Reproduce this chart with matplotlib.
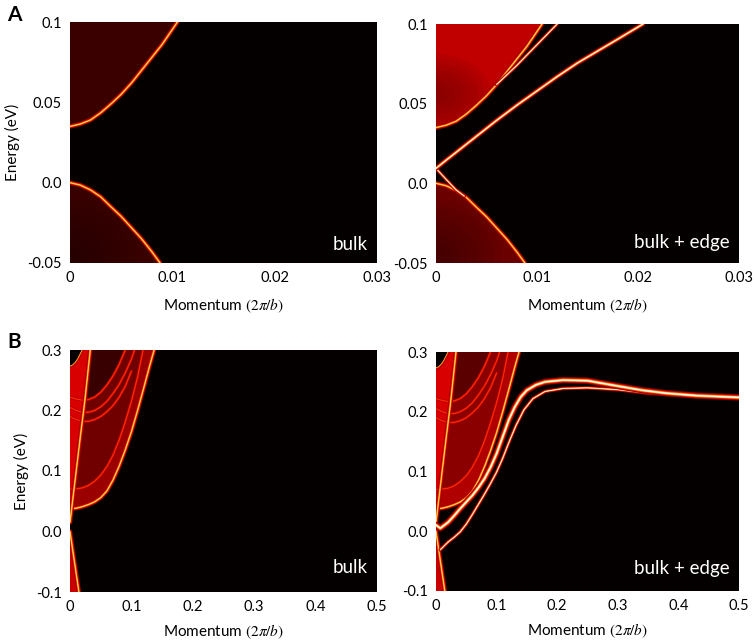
import matplotlib

matplotlib.use("Agg")
import matplotlib.pyplot as plt
from matplotlib.patches import Ellipse, Polygon
import numpy as np

plt.rcParams["font.family"] = ["Lato", "DejaVu Sans"]
plt.rcParams["mathtext.fontset"] = "stix"

# ---- panel A : momentum 0..0.03, energy -0.05..0.1 ----
a_cond_k = [0, 0.001, 0.002, 0.003, 0.004, 0.005, 0.006, 0.007, 0.008, 0.009, 0.0105]
a_cond_E = [0.035, 0.0365, 0.039, 0.0435, 0.049, 0.055, 0.062, 0.070, 0.078, 0.086, 0.1]
a_val_k = [0, 0.001, 0.002, 0.003, 0.004, 0.005, 0.006, 0.007, 0.008, 0.0088]
a_val_E = [0.0, -0.0015, -0.0045, -0.0088, -0.015, -0.021, -0.028, -0.035, -0.043, -0.05]
a_edge1_k = [0, 0.001, 0.002, 0.004, 0.006, 0.008, 0.010, 0.012, 0.014, 0.016, 0.018, 0.0205]
a_edge1_E = [0.0094, 0.0145, 0.0195, 0.0295, 0.0395, 0.049, 0.058, 0.067, 0.0755, 0.083,
             0.0905, 0.1]
a_edge2_k = [0, 0.001, 0.002, 0.0028]
a_edge2_E = [0.0094, 0.0025, -0.0042, -0.008]
a_edge3_k = [0.006, 0.008, 0.010, 0.012]
a_edge3_E = [0.062, 0.074, 0.087, 0.1]
a_xticks = [0, 0.01, 0.02, 0.03]
a_xlabels = ["0", "0.01", "0.02", "0.03"]
a_yticks = [0.1, 0.05, 0.0, -0.05]
a_ylabels = ["0.1", "0.05", "0.0", "-0.05"]

# ---- panel B : momentum 0..0.5, energy -0.1..0.3 ----
b_outer_k = [0, 0.01, 0.02, 0.03, 0.04, 0.05, 0.06, 0.07, 0.08, 0.09, 0.1, 0.11, 0.12, 0.13, 0.137]
b_outer_E = [0.038, 0.0385, 0.041, 0.0445, 0.049, 0.056, 0.067, 0.085, 0.108, 0.135, 0.165,
             0.2, 0.237, 0.275, 0.3]
b_second_k = [0, 0.01, 0.02, 0.03, 0.04, 0.05, 0.06, 0.07, 0.08, 0.09, 0.1, 0.11, 0.119]
b_second_E = [0.07, 0.0705, 0.072, 0.076, 0.083, 0.093, 0.107, 0.126, 0.151, 0.181, 0.215,
              0.255, 0.3]
b_steep_k = [0, 0.003, 0.016, 0.024, 0.033]
b_steep_E = [0.015, 0.04, 0.15, 0.215, 0.3]
b_low_k = [0, 0.005, 0.0145]
b_low_E = [0.0, -0.035, -0.1]
b_arc1_k = [0, 0.01, 0.02, 0.03, 0.04, 0.05, 0.06, 0.07, 0.08, 0.09]
b_arc1_E = [0.222, 0.219, 0.217, 0.218, 0.222, 0.23, 0.242, 0.257, 0.276, 0.3]
b_arc2_k = [0, 0.01, 0.02, 0.03, 0.04, 0.05, 0.06, 0.07, 0.08, 0.09, 0.1, 0.105]
b_arc2_E = [0.205, 0.2, 0.197, 0.197, 0.2, 0.206, 0.215, 0.228, 0.243, 0.262, 0.285, 0.3]
b_arc3_k = [0, 0.01, 0.02, 0.03, 0.04, 0.05, 0.06, 0.07, 0.08, 0.09, 0.1]
b_arc3_E = [0.19, 0.185, 0.182, 0.182, 0.185, 0.19, 0.198, 0.208, 0.222, 0.24, 0.265]
b_pocket_k = [0, 0.004, 0.008, 0.012, 0.016, 0.019]
b_pocket_E = [0.274, 0.276, 0.28, 0.286, 0.294, 0.3]
b_edge1_k = [0, 0.007, 0.02, 0.03, 0.04, 0.05, 0.06, 0.07, 0.08, 0.09, 0.1, 0.11, 0.12, 0.13,
             0.14, 0.15, 0.165, 0.18, 0.21, 0.25, 0.3, 0.34, 0.38, 0.43, 0.5]
b_edge1_E = [0.0105, 0.005, 0.015, 0.026, 0.038, 0.049, 0.06, 0.073, 0.088, 0.107, 0.13, 0.158,
             0.186, 0.208, 0.225, 0.236, 0.245, 0.25, 0.253, 0.252, 0.243, 0.236, 0.231,
             0.227, 0.224]
b_edge2_k = [0.007, 0.02, 0.03, 0.04, 0.05, 0.06, 0.07, 0.08, 0.09, 0.1, 0.11, 0.12, 0.132,
             0.145, 0.16, 0.18, 0.21, 0.25, 0.3, 0.35, 0.4]
b_edge2_E = [-0.031, -0.018, -0.01, -0.001, 0.012, 0.028, 0.045, 0.062, 0.08, 0.099, 0.122,
             0.148, 0.177, 0.203, 0.222, 0.234, 0.239, 0.240, 0.237, 0.231, 0.228]
b_xticks = [0, 0.1, 0.2, 0.3, 0.4, 0.5]
b_xlabels = ["0", "0.1", "0.2", "0.3", "0.4", "0.5"]
b_yticks = [0.3, 0.2, 0.1, 0.0, -0.1]
b_ylabels = ["0.3", "0.2", "0.1", "0.0", "-0.1"]

BG = "#050000"
BAND = [(3.2, "#a00000"), (1.8, "#ff2a00"), (0.9, "#ffb020"), (0.35, "#fff080")]
FAINT = [(2.0, "#b00000"), (0.9, "#ff2a00")]
EDGE = [(4.5, "#a00000"), (2.8, "#ff3000"), (1.7, "#ffc040"), (0.9, "#ffffff")]
EDGE_MID = [(3.4, "#a00000"), (2.0, "#ff3000"), (1.2, "#ffc040"), (0.6, "#ffffff")]
EDGE_THIN = [(2.6, "#a00000"), (1.4, "#ff4000"), (0.7, "#ffe0a0"), (0.3, "#ffffff")]


def glow(ax, k, E, layers):
    for lw, c in layers:
        ax.plot(k, E, color=c, lw=lw, solid_capstyle="round", solid_joinstyle="round")


def region(ax, k, E, color, zorder=1):
    patch = Polygon(np.column_stack([k, E]), closed=True, facecolor=color,
                    edgecolor="none", zorder=zorder)
    ax.add_patch(patch)
    return patch


def shade(ax, clip, center, w, h, color, n=8, alpha=0.14):
    for i in range(n):
        f = 1 - i / n
        e = Ellipse(center, w * f, h * f, facecolor=color, edgecolor="none",
                    alpha=alpha, zorder=1.5)
        ax.add_patch(e)
        e.set_clip_path(clip)


def style(ax, xlim, ylim, xt, xl, yt, yl, ylabel, xpad):
    ax.set_facecolor(BG)
    ax.set_xlim(*xlim)
    ax.set_ylim(*ylim)
    ax.set_xticks(xt, xl, fontsize=10.5)
    ax.set_yticks(yt, yl, fontsize=10.5)
    ax.tick_params(length=0, pad=6)
    for s in ax.spines.values():
        s.set_visible(False)
    ax.set_xlabel(r"Momentum $(2\pi/b)$", fontsize=11, labelpad=xpad)
    if ylabel:
        ax.set_ylabel("Energy (eV)", fontsize=11, labelpad=5)


def panel_a(ax, with_edge):
    top = region(ax, a_cond_k + [0], a_cond_E + [0.1],
                 "#c00000" if with_edge else "#3a0000")
    bot = region(ax, a_val_k + [0], a_val_E + [-0.05],
                 "#6a0000" if with_edge else "#380000")
    if with_edge:
        shade(ax, top, (0.0, 0.056), 0.011, 0.05, "#700000", alpha=0.12)
        shade(ax, bot, (0.0, -0.045), 0.013, 0.07, "#300000", alpha=0.1)
    else:
        shade(ax, bot, (0.0, -0.045), 0.013, 0.07, "#1a0000", alpha=0.08)
    glow(ax, a_cond_k, a_cond_E, BAND)
    glow(ax, a_val_k, a_val_E, BAND)
    if with_edge:
        glow(ax, a_edge3_k, a_edge3_E, EDGE_THIN)
        glow(ax, a_edge2_k, a_edge2_E, EDGE_THIN)
        glow(ax, a_edge1_k, a_edge1_E, EDGE_MID)
    style(ax, (0, 0.03), (-0.05, 0.1), a_xticks, a_xlabels, a_yticks, a_ylabels,
          not with_edge, 8)


def panel_b(ax, with_edge):
    mid = "#8a0000" if with_edge else "#700000"
    region(ax, b_outer_k + [0], b_outer_E + [0.3], mid)
    region(ax, b_outer_k + b_second_k[::-1], b_outer_E + b_second_E[::-1],
           "#b00000" if with_edge else "#9a0000")
    region(ax, [0.024, 0.033, 0.09] + b_arc1_k[:2:-1] + [0.025],
           [0.215, 0.3, 0.3] + b_arc1_E[:2:-1] + [0.218],
           "#5a0000" if with_edge else "#380000")
    region(ax, b_steep_k + [0], b_steep_E + [0.3], "#d80000")
    region(ax, b_low_k + [0], b_low_E + [-0.1], "#c80000")
    for k, E in ((b_arc3_k, b_arc3_E), (b_arc2_k, b_arc2_E), (b_arc1_k, b_arc1_E),
                 (b_second_k, b_second_E)):
        glow(ax, k, E, FAINT)
    region(ax, b_pocket_k + [0], b_pocket_E + [0.3], BG, zorder=3)
    glow(ax, b_pocket_k, b_pocket_E, BAND)
    glow(ax, b_outer_k, b_outer_E, BAND)
    glow(ax, b_steep_k, b_steep_E, BAND)
    glow(ax, b_low_k, b_low_E, BAND)
    if with_edge:
        glow(ax, b_edge2_k, b_edge2_E, EDGE_THIN)
        glow(ax, b_edge1_k, b_edge1_E, EDGE)
    style(ax, (0, 0.5), (-0.1, 0.3), b_xticks, b_xlabels, b_yticks, b_ylabels,
          not with_edge, 6)


fig = plt.figure(figsize=(7.54, 6.44), dpi=100)
W, H = 754, 644


def axes_px(x0, x1, y0, y1):
    return fig.add_axes([x0 / W, 1 - y1 / H, (x1 - x0) / W, (y1 - y0) / H])


ax1 = axes_px(70, 377, 22, 263)
ax2 = axes_px(436, 739, 24, 263)
ax3 = axes_px(70, 377, 350, 592)
ax4 = axes_px(436, 739, 352, 591)

panel_a(ax1, False)
panel_a(ax2, True)
panel_b(ax3, False)
panel_b(ax4, True)

for ax, txt, y in ((ax1, "bulk", 0.075), (ax2, "bulk + edge", 0.084),
                   (ax3, "bulk", 0.1), (ax4, "bulk + edge", 0.096)):
    ax.text(0.97, y, txt, transform=ax.transAxes, color="white", fontsize=13.5,
            ha="right", va="center", zorder=10)

fig.text(14 / W, 1 - 15 / H, "A", fontsize=15, fontweight="bold", ha="center", va="center")
fig.text(14 / W, 1 - 342 / H, "B", fontsize=15, fontweight="bold", ha="center", va="center")

fig.savefig("out.png", dpi=100)
